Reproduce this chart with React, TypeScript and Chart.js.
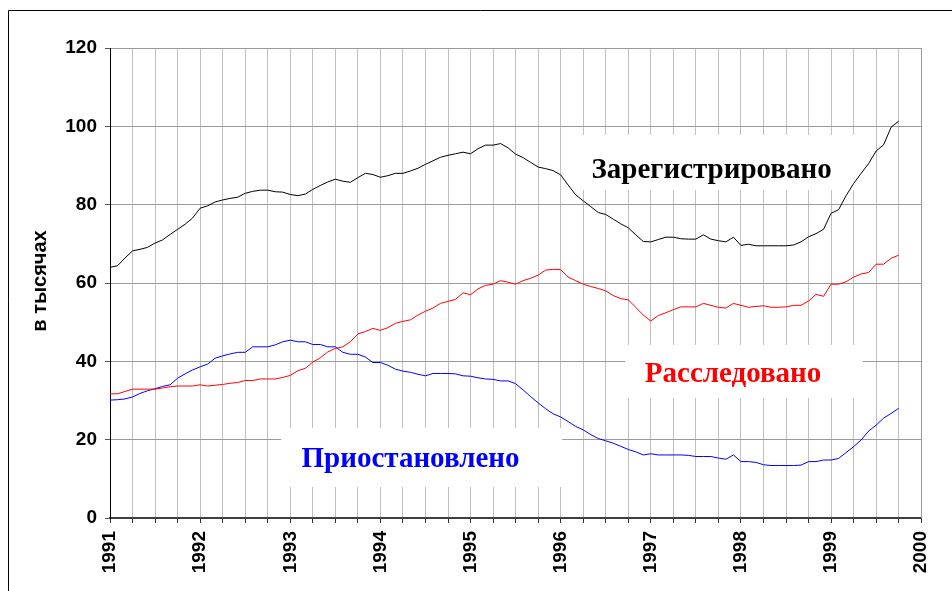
import React, { useEffect, useRef } from "react";
import { Chart, registerables } from "chart.js";

Chart.register(...registerables);

// ---- data (monthly values, January 1991 .. October 1999, thousands) ----
const FIRST_YEAR = 1991;
const LAST_YEAR = 2000;
const yearTickLabels = ["1991", "1992", "1993", "1994", "1995", "1996", "1997", "1998", "1999", "2000"];
const valueTicks = [0, 20, 40, 60, 80, 100, 120];

const registered = [
  64.0, 64.4, 66.4, 68.2, 68.6, 69.1, 70.2, 71.0, 72.4, 73.7,
  75.0, 76.6, 79.1, 79.7, 80.7, 81.2, 81.6, 81.9, 82.9, 83.4,
  83.7, 83.7, 83.3, 83.2, 82.6, 82.3, 82.7, 83.9, 84.9, 85.8,
  86.5, 86.0, 85.7, 86.9, 88.0, 87.7, 87.0, 87.4, 88.0, 88.0,
  88.6, 89.3, 90.3, 91.2, 92.1, 92.6, 93.0, 93.4, 93.0, 94.3,
  95.2, 95.2, 95.6, 94.5, 92.9, 92.0, 90.8, 89.6, 89.2, 88.7,
  87.6, 85.0, 82.5, 81.0, 79.5, 78.0, 77.5, 76.3, 75.1, 74.1,
  72.3, 70.6, 70.5, 71.1, 71.7, 71.7, 71.3, 71.2, 71.2, 72.3,
  71.2, 70.8, 70.5, 71.7, 69.6, 69.9, 69.5, 69.5, 69.5, 69.5,
  69.5, 69.7, 70.5, 71.8, 72.6, 73.7, 77.8, 78.7, 82.3, 85.4,
  88.0, 90.5, 93.7, 95.3, 99.8, 101.3,
];

const investigated = [
  31.7, 31.7, 32.3, 32.9, 32.9, 32.9, 32.9, 33.2, 33.5, 33.7,
  33.7, 33.7, 34.0, 33.7, 33.9, 34.1, 34.4, 34.6, 35.1, 35.1,
  35.5, 35.5, 35.5, 35.9, 36.4, 37.6, 38.2, 39.8, 40.9, 42.4,
  43.3, 43.7, 45.0, 47.0, 47.6, 48.4, 47.9, 48.6, 49.7, 50.2,
  50.6, 51.8, 52.8, 53.6, 54.8, 55.3, 55.8, 57.5, 57.0, 58.5,
  59.4, 59.7, 60.6, 60.2, 59.7, 60.6, 61.2, 62.0, 63.3, 63.5,
  63.4, 61.5, 60.6, 59.7, 59.1, 58.6, 58.0, 56.8, 56.0, 55.7,
  53.8, 51.8, 50.3, 51.7, 52.4, 53.2, 53.9, 53.9, 53.9, 54.8,
  54.3, 53.8, 53.6, 54.8, 54.3, 53.8, 54.0, 54.2, 53.8, 53.8,
  53.9, 54.3, 54.3, 55.4, 57.1, 56.6, 59.7, 59.7, 60.3, 61.5,
  62.3, 62.7, 64.8, 64.8, 66.3, 67.1,
];

const suspended = [
  30.1, 30.2, 30.4, 30.9, 31.8, 32.5, 33.0, 33.6, 34.0, 35.7,
  36.8, 37.8, 38.6, 39.3, 40.8, 41.4, 41.9, 42.3, 42.3, 43.7,
  43.7, 43.7, 44.2, 45.0, 45.4, 45.0, 45.0, 44.3, 44.3, 43.7,
  43.7, 42.3, 41.8, 41.8, 41.1, 39.7, 39.7, 39.0, 38.0, 37.5,
  37.2, 36.7, 36.3, 36.9, 36.9, 36.9, 36.8, 36.3, 36.2, 35.8,
  35.5, 35.4, 35.0, 35.0, 34.3, 32.7, 31.0, 29.4, 27.9, 26.6,
  25.8, 24.6, 23.4, 22.5, 21.3, 20.3, 19.7, 19.1, 18.3, 17.5,
  16.9, 16.1, 16.4, 16.1, 16.1, 16.1, 16.1, 16.0, 15.7, 15.7,
  15.7, 15.3, 15.0, 16.1, 14.4, 14.4, 14.2, 13.6, 13.4, 13.4,
  13.4, 13.4, 13.5, 14.4, 14.4, 14.8, 14.8, 15.2, 16.7, 18.2,
  19.9, 22.2, 23.7, 25.5, 26.7, 28.0,
];

const seriesLabels = ["Зарегистрировано", "Расследовано", "Приостановлено"];
const seriesColors = ["#000000", "#ff0000", "#0000ff"];
const yAxisTitle = "в тысячах";

// callout boxes (data coordinates: months from Jan 1991, thousands)
const callouts = [
  { text: seriesLabels[0], color: seriesColors[0], box: [61.9, 97.8, 99.8, 83.7], at: [64.1, 86.8] },
  { text: seriesLabels[1], color: seriesColors[1], box: [68.6, 44.2, 100.2, 30.6], at: [71.2, 34.8] },
  { text: seriesLabels[2], color: seriesColors[2], box: [22.8, 23.0, 60.2, 7.9], at: [25.5, 13.1] },
];

const MONTHS = 12;
const toPoints = (arr: number[]) => arr.map((v, i) => ({ x: i, y: v }));

const SANS = '"Liberation Sans", Arial, sans-serif';
const SERIF = '"Liberation Serif", "Times New Roman", serif';

const decor = {
  id: "decor",
  beforeDatasetsDraw(chart: any) {
    const { ctx, chartArea, scales } = chart;
    const x = scales.x;
    const y = scales.y;
    ctx.save();
    ctx.fillStyle = "#ffffff";
    for (const c of callouts) {
      const l = x.getPixelForValue(c.box[0]);
      const r = x.getPixelForValue(c.box[2]);
      const t = y.getPixelForValue(c.box[1]);
      const b = y.getPixelForValue(c.box[3]);
      ctx.fillRect(l, t, r - l, b - t);
    }
    ctx.strokeStyle = "#9a9a9a";
    ctx.lineWidth = 1;
    ctx.beginPath();
    ctx.moveTo(Math.round(chartArea.right) + 0.5, chartArea.top);
    ctx.lineTo(Math.round(chartArea.right) + 0.5, chartArea.bottom);
    ctx.stroke();
    ctx.restore();
  },
  afterDatasetsDraw(chart: any) {
    const { ctx, scales } = chart;
    ctx.save();
    ctx.font = `bold 29px ${SERIF}`;
    ctx.textAlign = "left";
    ctx.textBaseline = "alphabetic";
    for (const c of callouts) {
      ctx.fillStyle = c.color;
      ctx.fillText(c.text, scales.x.getPixelForValue(c.at[0]), scales.y.getPixelForValue(c.at[1]));
    }
    ctx.restore();
  },
  afterDraw(chart: any) {
    const { ctx, chartArea } = chart;
    ctx.save();
    ctx.strokeStyle = "#000";
    ctx.lineWidth = 1;
    ctx.beginPath();
    ctx.moveTo(8.5, chart.height);
    ctx.lineTo(8.5, 10.5);
    ctx.lineTo(chart.width, 10.5);
    ctx.stroke();
    ctx.translate(40, (chartArea.top + chartArea.bottom) / 2 - 2);
    ctx.rotate(-Math.PI / 2);
    ctx.font = `bold 20px ${SANS}`;
    ctx.fillStyle = "#000";
    ctx.textAlign = "center";
    ctx.textBaseline = "middle";
    ctx.fillText(yAxisTitle, 0, 0);
    ctx.restore();
  },
};

export default function App() {
  const ref = useRef<HTMLCanvasElement | null>(null);
  useEffect(() => {
    if (!ref.current) return;
    const chart = new Chart(ref.current, {
      type: "line",
      data: {
        datasets: [registered, investigated, suspended].map((arr, i) => ({
          label: seriesLabels[i],
          data: toPoints(arr),
          borderColor: seriesColors[i],
          backgroundColor: seriesColors[i],
          borderWidth: 1,
          pointRadius: 0,
          tension: 0,
          fill: false,
        })),
      },
      options: {
        responsive: false,
        animation: false,
        events: [],
        layout: { padding: { left: 0, top: 48, right: 23, bottom: 0 } },
        plugins: { legend: { display: false }, tooltip: { enabled: false }, title: { display: false } },
        scales: {
          x: {
            type: "linear",
            min: 0,
            max: (LAST_YEAR - FIRST_YEAR) * MONTHS,
            afterFit: (s: any) => { s.height = 73; },
            afterBuildTicks: (s: any) => {
              const t = [];
              for (let v = 0; v <= (LAST_YEAR - FIRST_YEAR) * MONTHS; v += 3) t.push({ value: v });
              s.ticks = t;
            },
            ticks: {
              autoSkip: false,
              minRotation: 90,
              maxRotation: 90,
              padding: 8,
              color: "#000",
              font: { family: SANS, size: 19, weight: "bold" },
              callback: (v: any) => (Number(v) % MONTHS === 0 ? yearTickLabels[Number(v) / MONTHS] : ""),
            },
            grid: { color: "#bfbfbf", lineWidth: 1, tickColor: "#333", tickLength: 5, drawOnChartArea: true },
            border: { color: "#404040", width: 2 },
          },
          y: {
            min: 0,
            max: 120,
            afterFit: (s: any) => { s.width = 110; },
            afterBuildTicks: (s: any) => { s.ticks = valueTicks.map((v) => ({ value: v })); },
            ticks: {
              padding: 8,
              color: "#000",
              font: { family: SANS, size: 19, weight: "bold" },
            },
            grid: { color: "#9a9a9a", lineWidth: 1, tickColor: "#555", tickLength: 5 },
            border: { color: "#000", width: 1 },
          },
        },
      } as any,
      plugins: [decor],
    });
    return () => chart.destroy();
  }, []);
  return (
    <div style={{ position: "absolute", left: 0, top: 0, width: 952, height: 591, background: "#fff" }}>
      <canvas ref={ref} width={952} height={591} style={{ display: "block" }} />
    </div>
  );
}
